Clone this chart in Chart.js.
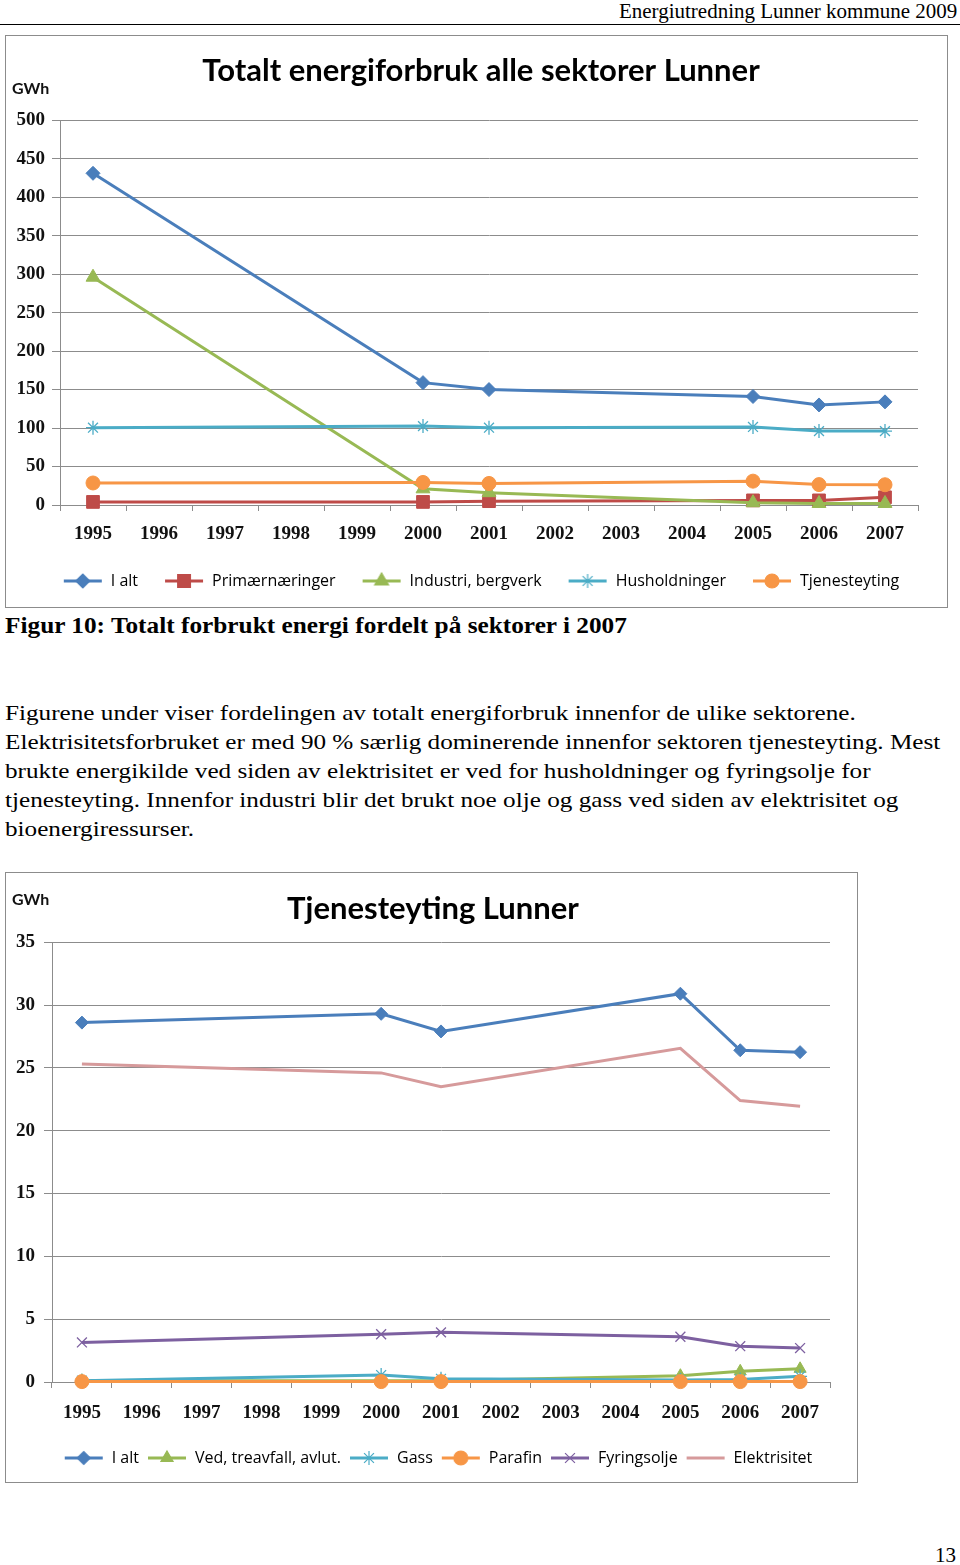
<!DOCTYPE html>
<html>
<head>
<meta charset="utf-8">
<script src="https://cdn.jsdelivr.net/npm/chart.js@4.4.1/dist/chart.umd.min.js"></script>
<style>
  body { margin: 0; background: #fff; }
  #page { position: relative; width: 960px; height: 1565px; overflow: hidden; background: #fff; font-family: "Liberation Serif", "Times New Roman", serif; color: #000; }
  .abs { position: absolute; white-space: nowrap; }
  #header { right: 3px; top: 0px; font-size: 20px; line-height: 22px; transform: scaleX(1.05); transform-origin: right top; }
  #headerLine { left: 0; top: 24px; width: 960px; border-top: 1.5px solid #000; }
  .box { position: absolute; border: 1px solid #8c8c8c; box-sizing: border-box; }
  .box canvas { position: absolute; left: 0; top: 0; }
  .gwh { position: absolute; font-family: Lato, sans-serif; font-weight: bold; font-size: 16px; color: #111; }
  #caption { left: 5px; top: 612px; font-size: 23px; font-weight: bold; line-height: 28px; transform: scaleX(1.1); transform-origin: left top; }
  #para { left: 5px; top: 698px; font-size: 22px; line-height: 29px; transform: scaleX(1.145); transform-origin: left top; }
  #pageNo { right: 4px; top: 1543px; font-size: 21px; }
</style>
</head>
<body>
<div id="page">
  <div id="header" class="abs">Energiutredning Lunner kommune 2009</div>
  <div id="headerLine" class="abs"></div>

  <div class="box" style="left:5px; top:35px; width:943px; height:573px;">
    <canvas id="chart1" width="941" height="571"></canvas>
    <div class="gwh" style="left:6px; top:42px;">GWh</div>
  </div>

  <div id="caption" class="abs">Figur 10: Totalt forbrukt energi fordelt på sektorer i 2007</div>

  <div id="para" class="abs">
    Figurene under viser fordelingen av totalt energiforbruk innenfor de ulike sektorene.<br>
    Elektrisitetsforbruket er med 90 % særlig dominerende innenfor sektoren tjenesteyting. Mest<br>
    brukte energikilde ved siden av elektrisitet er ved for husholdninger og fyringsolje for<br>
    tjenesteyting. Innenfor industri blir det brukt noe olje og gass ved siden av elektrisitet og<br>
    bioenergiressurser.
  </div>

  <div class="box" style="left:5px; top:872px; width:853px; height:611px;">
    <canvas id="chart2" width="851" height="609"></canvas>
    <div class="gwh" style="left:6px; top:16px;">GWh</div>
  </div>

  <div id="pageNo" class="abs">13</div>
</div>

<script>
// Årstall (kategorier)
const years = ['1995', '1996', '1997', '1998', '1999', '2000', '2001', '2002', '2003', '2004', '2005', '2006', '2007'];

// Totalt energiforbruk alle sektorer (GWh)
const totalIalt = [431, null, null, null, null, 159, 150, null, null, null, 141, 130, 134];
const totalPrimaer = [4, null, null, null, null, 4, 5, null, null, null, 6, 6, 10];
const totalIndustri = [296, null, null, null, null, 21, 16, null, null, null, 3, 2, 2];
const totalHushold = [100.5, null, null, null, null, 102.5, 100.5, null, null, null, 101.5, 96, 96];
const totalTjeneste = [28.6, null, null, null, null, 29.3, 28.0, null, null, null, 31.0, 26.5, 26.3];

// Tjenesteyting (GWh)
const tjIalt = [28.6, null, null, null, null, 29.3, 27.9, null, null, null, 30.9, 26.4, 26.25];
const tjVed = [0.1, null, null, null, null, 0.1, 0.1, null, null, null, 0.5, 0.85, 1.05];
const tjGass = [0.1, null, null, null, null, 0.55, 0.25, null, null, null, 0.15, 0.2, 0.45];
const tjParafin = [0.03, null, null, null, null, 0.03, 0.03, null, null, null, 0.03, 0.03, 0.03];
const tjFyringsolje = [3.15, null, null, null, null, 3.8, 3.95, null, null, null, 3.6, 2.85, 2.7];
const tjElektrisitet = [25.3, null, null, null, null, 24.6, 23.5, null, null, null, 26.55, 22.4, 21.95];

const chart1Ticks = { min: 0, max: 500, step: 50 };
const chart2Ticks = { min: 0, max: 35, step: 5 };

const COL = {
    blue: '#4a7ebb',
    red: '#be4b48',
    green: '#98b954',
    teal: '#4bacc6',
    orange: '#f79646',
    purple: '#7d60a0',
    rose: '#d69a9b'
};

const tickFont = { family: '"Liberation Serif", serif', size: 19, weight: 'bold' };
const legendFont = { family: '"Open Sans", sans-serif', size: 16 };

// Legendesymbol: linje med markør i midten (som i Excel)
function legendIcon(color, style, radius) {
    const c = document.createElement('canvas');
    c.width = 40;
    c.height = 20;
    const ctx = c.getContext('2d');
    ctx.strokeStyle = color;
    ctx.lineWidth = 3;
    ctx.beginPath();
    ctx.moveTo(1, 10);
    ctx.lineTo(39, 10);
    ctx.stroke();
    if (style) {
        ctx.fillStyle = color;
        ctx.lineWidth = 1.2;
        Chart.helpers.drawPoint(ctx, { pointStyle: style, radius: radius, rotation: 0, borderWidth: 1.2 }, 20, 10);
    }
    return c;
}

// Flytter tittel og legende sidelengs uten å endre plottområdet
const shiftBoxes = {
    id: 'shiftBoxes',
    afterLayout(chart, args, opts) {
        if (chart.titleBlock) {
            chart.titleBlock.left += opts.title;
            chart.titleBlock.right += opts.title;
        }
        if (chart.legend) {
            chart.legend.left += opts.legend;
            chart.legend.right += opts.legend;
        }
    }
};

// Senere serier tegnes øverst, som i Excel
let seriesCount = 0;

function series(label, data, color, style, radius) {
    seriesCount++;
    return {
        label: label,
        data: data,
        order: -seriesCount,
        clip: false,
        borderColor: color,
        backgroundColor: color,
        borderWidth: 3,
        pointStyle: style || 'circle',
        pointRadius: style ? radius : 0,
        pointHoverRadius: style ? radius : 0,
        pointBorderWidth: (style === 'star' || style === 'crossRot') ? 1.3 : 1,
        spanGaps: true,
        tension: 0,
        legendIcon: legendIcon(color, style, radius)
    };
}

function makeOptions(title, ticks, layout) {
    return {
        responsive: false,
        animation: false,
        events: [],
        layout: { padding: { left: 0, right: layout.right, top: 0, bottom: layout.bottom } },
        plugins: {
            shiftBoxes: { title: layout.titleShift, legend: layout.legendShift },
            title: {
                display: true,
                text: title,
                color: '#000',
                font: { family: 'Lato, sans-serif', size: 31, weight: 'bold', lineHeight: 1.2 },
                padding: { top: layout.titleTop, bottom: layout.titleBottom }
            },
            legend: {
                position: 'bottom',
                labels: {
                    usePointStyle: true,
                    pointStyleWidth: 40,
                    padding: layout.legendPad,
                    color: '#000',
                    font: legendFont,
                    generateLabels: (chart) => chart.data.datasets.map((ds, i) => ({
                        text: ds.label,
                        pointStyle: ds.legendIcon,
                        fillStyle: ds.borderColor,
                        strokeStyle: ds.borderColor,
                        lineWidth: 0,
                        hidden: false,
                        datasetIndex: i,
                        fontColor: '#000'
                    }))
                }
            },
            tooltip: { enabled: false }
        },
        scales: {
            x: {
                type: 'category',
                offset: true,
                afterFit: (scale) => { scale.height = layout.xHeight; },
                grid: { display: true, offset: true, drawOnChartArea: false, drawTicks: true, tickLength: 6, color: '#8c8c8c' },
                border: { display: true, color: '#8c8c8c', width: 1 },
                ticks: { color: '#111', font: tickFont, padding: layout.xPad, maxRotation: 0, autoSkip: false }
            },
            y: {
                min: ticks.min,
                max: ticks.max,
                afterFit: (scale) => { scale.width = layout.yWidth; },
                grid: { color: '#8c8c8c', lineWidth: 1, drawTicks: true, tickLength: 8 },
                border: { display: true, color: '#8c8c8c', width: 1 },
                ticks: { stepSize: ticks.step, color: '#111', font: tickFont, padding: layout.yPad }
            }
        }
    };
}

new Chart(document.getElementById('chart1'), {
    type: 'line',
    data: {
        labels: years,
        datasets: [
            series('I alt', totalIalt, COL.blue, 'rectRot', 7),
            series('Primærnæringer', totalPrimaer, COL.red, 'rect', 9),
            series('Industri, bergverk', totalIndustri, COL.green, 'triangle', 8),
            series('Husholdninger', totalHushold, COL.teal, 'star', 7),
            series('Tjenesteyting', totalTjeneste, COL.orange, 'circle', 7)
        ]
    },
    options: makeOptions('Totalt energiforbruk alle sektorer Lunner', chart1Ticks, {
        right: 29, bottom: 8, titleTop: 16, titleBottom: 31, legendPad: 26,
        xHeight: 42, xPad: 12, yWidth: 54, yPad: 7, titleShift: 19, legendShift: 19
    }),
    plugins: [shiftBoxes]
});

new Chart(document.getElementById('chart2'), {
    type: 'line',
    data: {
        labels: years,
        datasets: [
            series('I alt', tjIalt, COL.blue, 'rectRot', 6.5),
            series('Ved, treavfall, avlut.', tjVed, COL.green, 'triangle', 7),
            series('Gass', tjGass, COL.teal, 'star', 7),
            series('Parafin', tjParafin, COL.orange, 'circle', 7),
            series('Fyringsolje', tjFyringsolje, COL.purple, 'crossRot', 7),
            series('Elektrisitet', tjElektrisitet, COL.rose, null, 0)
        ]
    },
    options: makeOptions('Tjenesteyting Lunner', chart2Ticks, {
        right: 27, bottom: 6, titleTop: 17, titleBottom: 15, legendPad: 8,
        xHeight: 60, xPad: 14, yWidth: 46, yPad: 9, titleShift: 15, legendShift: 20
    }),
    plugins: [shiftBoxes]
});
</script>
</body>
</html>
